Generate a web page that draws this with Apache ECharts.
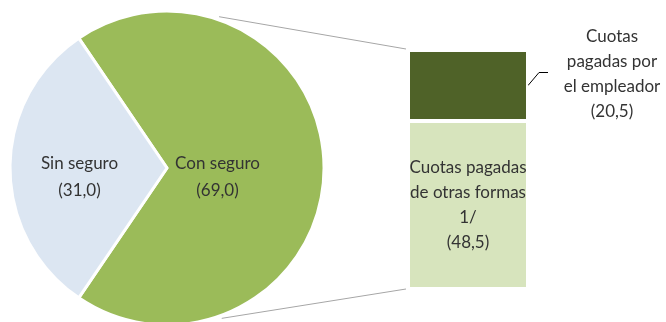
<!DOCTYPE html>
<html>
<head>
<meta charset="utf-8">
<script src="https://cdn.jsdelivr.net/npm/echarts@6/dist/echarts.min.js"></script>
<style>
  html, body { margin: 0; padding: 0; background: #ffffff; }
  #chart { width: 666px; height: 322px; }
</style>
</head>
<body>
<div id="chart"></div>
<script>
// Main pie: insured vs. uninsured
const pieNames = ['Con seguro', 'Sin seguro'];
const pieValues = [69.0, 31.0];
const pieColors = ['#9bbb59', '#dce6f2'];

// Breakdown bar for "Con seguro" (bottom segment first)
const barLabels = ['Cuotas pagadas\nde otras formas\n1/', 'Cuotas\npagadas por\nel empleador'];
const barValues = [48.5, 20.5];
const barColors = ['#d7e4bd', '#4f6228'];

const fmt = v => '(' + v.toFixed(1).replace('.', ',') + ')';
const total = pieValues.reduce((a, b) => a + b, 0);
const barTotal = barValues.reduce((a, b) => a + b, 0);
// centre the first slice on the right-hand side
const startAngle = 360 * pieValues[0] / total / 2;

const pieCenter = [167, 168];
const pieRadius = 157;
const gridLeft = 408, gridWidth = 120, gridTop = 50, gridBottom = 33;

const font = 'Lato, sans-serif';
const textColor = '#333333';
const textBase = { fontFamily: font, fontSize: 17, lineHeight: 25, color: textColor };

const chart = echarts.init(document.getElementById('chart'), null, { renderer: 'canvas' });

chart.setOption({
  animation: false,
  grid: { left: gridLeft, width: gridWidth, top: gridTop, bottom: gridBottom },
  xAxis: { type: 'category', data: [pieNames[0]], show: false },
  yAxis: { type: 'value', min: 0, max: barTotal, show: false },
  series: [
    {
      id: 'pie',
      type: 'pie',
      center: pieCenter,
      radius: pieRadius,
      startAngle: startAngle,
      clockwise: true,
      silent: true,
      data: pieNames.map((n, i) => ({ name: n, value: pieValues[i], itemStyle: { color: pieColors[i] } })),
      itemStyle: { borderColor: '#ffffff', borderWidth: 3 },
      label: Object.assign({ position: 'inside', formatter: p => p.name + '\n' + fmt(p.value) },
                           textBase, { lineHeight: 27 }),
      labelLine: { show: false }
    },
    {
      type: 'bar',
      stack: 'parts',
      barWidth: '100%',
      silent: true,
      data: [barValues[0]],
      itemStyle: { color: barColors[0], borderColor: '#ffffff', borderWidth: 2 },
      label: Object.assign({ show: true, position: 'inside', formatter: p => barLabels[0] + '\n' + fmt(p.value) }, textBase)
    },
    {
      type: 'bar',
      stack: 'parts',
      barWidth: '100%',
      silent: true,
      data: [barValues[1]],
      itemStyle: { color: barColors[1], borderColor: '#ffffff', borderWidth: 2 },
      label: Object.assign({
        show: true, position: 'right', distance: 84, align: 'center', offset: [0, -11],
        formatter: p => barLabels[1] + '\n' + fmt(p.value)
      }, textBase)
    }
  ]
});

// Connector lines from the pie to the bar, and the leader line of the top segment
const yTop = chart.convertToPixel({ yAxisIndex: 0 }, barTotal);
const yBottom = chart.convertToPixel({ yAxisIndex: 0 }, 0);
const yMidTop = chart.convertToPixel({ yAxisIndex: 0 }, barValues[0] + barValues[1] / 2);
const barRight = gridLeft + gridWidth;
const rim = pieRadius + 3;
const onRim = deg => [pieCenter[0] + rim * Math.cos(deg * Math.PI / 180),
                      pieCenter[1] - rim * Math.sin(deg * Math.PI / 180)];
const pTop = onRim(71);
const pBot = onRim(-70);

chart.setOption({
  series: [{
    id: 'pie',
    // nudge the slice labels off the default mid-radius spot
    labelLayout: p => ({ dx: p.dataIndex === 0 ? -31 : -6, dy: 9 })
  }],
  graphic: [
    { type: 'line', silent: true, shape: { x1: pTop[0], y1: pTop[1], x2: gridLeft - 2, y2: yTop - 1 },
      style: { stroke: '#a6a6a6', lineWidth: 1 } },
    { type: 'line', silent: true, shape: { x1: pBot[0], y1: pBot[1], x2: gridLeft - 2, y2: yBottom },
      style: { stroke: '#a6a6a6', lineWidth: 1 } },
    { type: 'polyline', silent: true,
      shape: { points: [[barRight, yMidTop], [barRight + 11, yMidTop - 13], [barRight + 20, yMidTop - 13]] },
      style: { stroke: '#000000', lineWidth: 1, fill: null } }
  ]
});
</script>
</body>
</html>
